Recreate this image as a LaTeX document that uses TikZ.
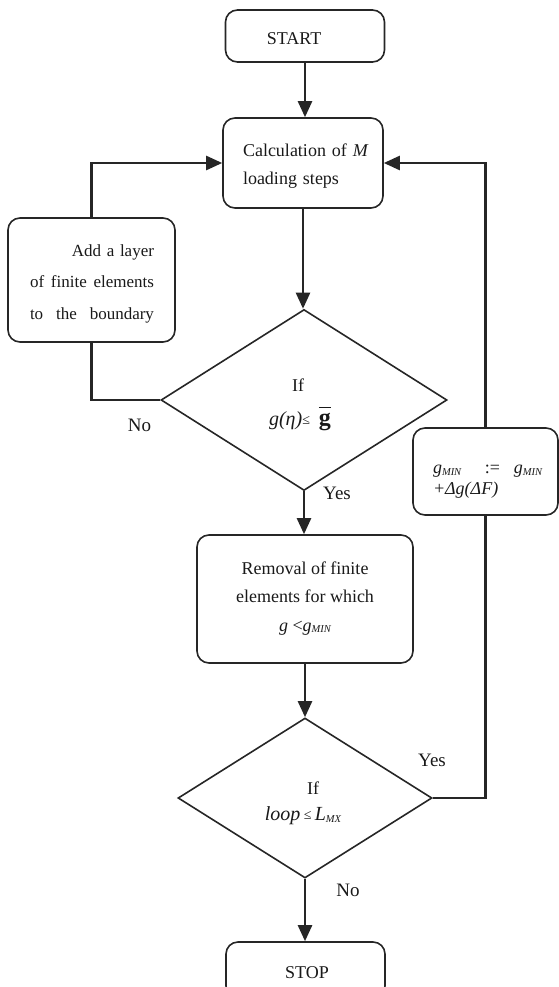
\documentclass[tikz,border=0pt]{standalone}
\usepackage{fontspec}
\setmainfont{Liberation Serif}
\usetikzlibrary{shapes.geometric,arrows.meta}
\tikzset{
  box/.style={draw=black!85, line width=1.6pt, rounded corners=12pt, inner sep=0pt},
  dia/.style={draw=black!85, line width=1.6pt, shape=diamond, inner sep=0pt},
  conn/.style={draw=black!85, line width=2.4pt},
  arr/.style={conn, -{Triangle[width=14pt,length=16pt]}},
  txt/.style={inner sep=0pt, text=black!90},
  lbl/.style={inner sep=0pt, text=black!90, font=\fontsize{19}{22}\selectfont}
}
\newcommand{\subsc}[1]{\raisebox{-1.5pt}{\fontsize{10.5}{10.5}\selectfont\itshape #1}}
\newcommand{\smle}{\raisebox{1pt}{\fontsize{14}{14}\selectfont ≤}}
\newcommand{\fitline}[2]{\leavevmode\hbox to #1{#2}}
\begin{document}
\begin{tikzpicture}[x=1pt,y=-1pt, font=\fontsize{18}{28.5}\selectfont]
\useasboundingbox (0,0) rectangle (559,987);
\clip (0,0) rectangle (559,987);
% boxes
\node[box, minimum width=159pt, minimum height=52pt] (start) at (305,36) {};
\node[box, minimum width=160pt, minimum height=90pt] (calc) at (303,163) {};
\node[box, minimum width=167pt, minimum height=124pt] (add) at (91.5,280) {};
\node[dia, minimum width=286pt, minimum height=181pt] (d1) at (304,400) {};
\node[box, minimum width=145pt, minimum height=87pt] (gmin) at (485.5,471.5) {};
\node[box, minimum width=216pt, minimum height=128pt] (rem) at (305,599) {};
\node[dia, minimum width=254pt, minimum height=160pt] (d2) at (305,798) {};
\node[box, minimum width=159pt, minimum height=56pt] (stop) at (305.5,970) {};
% texts
\node[txt] (startt) at (294,39) {START};
\node[txt, text width=132pt, align=left, font=\fontsize{18}{28}\selectfont] (calct) at (309,166)
  {Calculation of \textit{M}\\loading steps};
\node[txt, text width=124pt, align=left, font=\fontsize{17}{31.5}\selectfont] (addt) at (92,283.5)
  {\fitline{124pt}{\hfill Add a layer}\\ \fitline{124pt}{of\hfill finite\hfill elements}\\ \fitline{124pt}{to\hfill the\hfill boundary}};
\node[txt] (d1a) at (298,385) {If};
\node[txt, font=\fontsize{20}{24}\selectfont] (d1b) at (300,419)
  {\textit{g(η)}\smle\hspace{9pt}$\overline{\mbox{\fontsize{24}{24}\selectfont\bfseries\vphantom{d}g}}$};
\node[txt, text width=109pt, align=left, font=\fontsize{18}{21}\selectfont] (gmint) at (487.5,482)
  {\fitline{109pt}{\textit{g}\subsc{MIN}\hspace{0pt plus 1.7fill}:=\hspace{0pt plus 1fill}\textit{g}\subsc{MIN}}\\ \textit{+Δg(ΔF)}};
\node[txt, align=center] (remt) at (305,598.5)
  {Removal of finite\\ elements for which\\ \textit{g} <\textit{g}\subsc{MIN}};
\node[txt] (d2a) at (313,788) {If};
\node[txt, font=\fontsize{20}{24}\selectfont] (d2b) at (303,816) {\textit{loop}\,\smle\,\textit{L}\subsc{MX}};
\node[txt] (stopt) at (307,972.5) {STOP};
% connectors
\draw[arr] (start.south) -- (start.south |- calc.north);
\draw[arr] (calc.south) -- (calc.south |- d1.north);
\draw[conn] (d1.west) -| (add.south);
\draw[arr] (add.north) |- (calc.west);
\draw[arr] (d1.south) -- (d1.south |- rem.north);
\draw[arr] (rem.south) -- (rem.south |- d2.north);
\draw[conn] (d2.east) -| (gmin.south);
\draw[arr] (gmin.north) |- (calc.east);
\draw[arr] (d2.south) -- (d2.south |- stop.north);
% labels
\node[lbl] (no1) at (139.5,425) {No};
\node[lbl] (yes1) at (337,493) {Yes};
\node[lbl] (yes2) at (432,760) {Yes};
\node[lbl] (no2) at (348,890) {No};
\end{tikzpicture}
\end{document}
